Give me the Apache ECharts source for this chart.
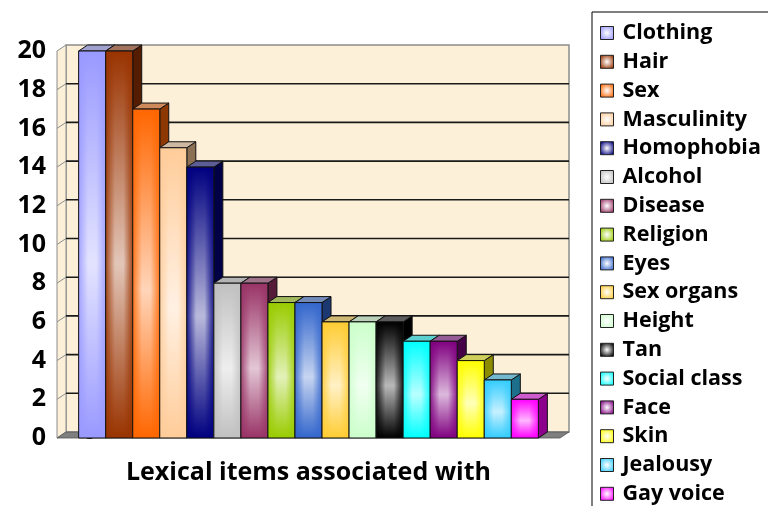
<!DOCTYPE html>
<html>
<head>
<meta charset="utf-8">
<script src="https://cdn.jsdelivr.net/npm/echarts@6/dist/echarts.min.js"></script>
<style>
html, body { margin: 0; padding: 0; background: #fff; }
#main { width: 768px; height: 506px; }
</style>
</head>
<body>
<div id="main"></div>
<script>
// data
var items = ['Clothing', 'Hair', 'Sex', 'Masculinity', 'Homophobia', 'Alcohol', 'Disease', 'Religion',
	'Eyes', 'Sex organs', 'Height', 'Tan', 'Social class', 'Face', 'Skin', 'Jealousy', 'Gay voice'];
var counts = [20, 20, 17, 15, 14, 8, 8, 7, 7, 6, 6, 6, 5, 5, 4, 3, 2];
var colors = ['#9999ff', '#993300', '#ff6600', '#ffcc99', '#000080', '#c0c0c0', '#993366', '#99cc00',
	'#3366cc', '#ffcc33', '#ccffcc', '#000000', '#00ffff', '#800080', '#ffff00', '#33ccff', '#ff00ff'];
var yMin = 0, yMax = 20, yStep = 2;
var xTitle = 'Lexical items associated with';

// 3d look
var DX = 9, DY = -6;
var X_MIN = -1.3, X_MAX = 17.3;
var FONT = 'Open Sans';

function hexRgb(hex) {
	return [parseInt(hex.slice(1, 3), 16), parseInt(hex.slice(3, 5), 16), parseInt(hex.slice(5, 7), 16)];
}
function mix(hex, other, t, alpha) {
	var a = hexRgb(hex), b = hexRgb(other);
	var r = [];
	for (var k = 0; k < 3; k++) r.push(Math.round(a[k] * (1 - t) + b[k] * t));
	return 'rgba(' + r.join(',') + ',' + (alpha == null ? 1 : alpha) + ')';
}

var myChart = echarts.init(document.getElementById('main'));

function wallItem(params, api) {
	var fl = api.coord([X_MIN, yMin]);
	var fr = api.coord([X_MAX, yMin]);
	var tl = api.coord([X_MIN, yMax]);
	var tr = api.coord([X_MAX, yMax]);
	var wall = '#fcf0d9';
	var kids = [];
	// back wall
	kids.push({
		type: 'rect',
		shape: { x: tl[0] + DX, y: tl[1] + DY, width: tr[0] - tl[0], height: fl[1] - tl[1] },
		style: { fill: wall, stroke: '#8c8c8c', lineWidth: 1.5 }
	});
	// side wall
	kids.push({
		type: 'polygon',
		shape: { points: [fl, tl, [tl[0] + DX, tl[1] + DY], [fl[0] + DX, fl[1] + DY]] },
		style: { fill: wall, stroke: '#8c8c8c', lineWidth: 1 }
	});
	for (var v = yMin + yStep; v < yMax; v += yStep) {
		var p = api.coord([X_MIN, v]);
		var q = api.coord([X_MAX, v]);
		kids.push({
			type: 'line',
			shape: { x1: p[0] + DX, y1: p[1] + DY, x2: q[0] + DX, y2: q[1] + DY },
			style: { stroke: '#1a1a1a', lineWidth: 1.6 }
		});
		kids.push({
			type: 'line',
			shape: { x1: p[0], y1: p[1], x2: p[0] + DX, y2: p[1] + DY },
			style: { stroke: '#8c8c8c', lineWidth: 1 }
		});
	}
	// floor
	kids.push({
		type: 'polygon',
		shape: { points: [fl, fr, [fr[0] + DX, fr[1] + DY], [fl[0] + DX, fl[1] + DY]] },
		style: { fill: '#7f7f7f', stroke: '#555', lineWidth: 0.8 }
	});
	return { type: 'group', children: kids };
}

function barItem(idx) {
	var c = colors[idx];
	return function(params, api) {
		var i = api.value(0), v = api.value(1);
		var a = api.coord([i - 0.5, v]);
		var b = api.coord([i + 0.5, 0]);
		var w = b[0] - a[0], h = b[1] - a[1];
		return {
			type: 'group',
			children: [{
				type: 'polygon',
				shape: { points: [[b[0], a[1]], [b[0] + DX, a[1] + DY], [b[0] + DX, b[1] + DY], [b[0], b[1]]] },
				style: { fill: mix(c, '#000000', 0.45), stroke: '#111', lineWidth: 1 }
			}, {
				type: 'polygon',
				shape: { points: [[a[0], a[1]], [a[0] + DX, a[1] + DY], [b[0] + DX, a[1] + DY], [b[0], a[1]]] },
				style: { fill: mix(c, '#a8a8a8', 0.55), stroke: '#111', lineWidth: 1 }
			}, {
				type: 'rect',
				shape: { x: a[0], y: a[1], width: w, height: h },
				style: {
					fill: new echarts.graphic.LinearGradient(0, 0, 0, 1, [
						{ offset: 0, color: c },
						{ offset: 0.55, color: mix(c, '#ffffff', 0.85) },
						{ offset: 1, color: c }
					])
				}
			}, {
				type: 'rect',
				shape: { x: a[0], y: a[1], width: w, height: h },
				style: {
					fill: new echarts.graphic.LinearGradient(0, 0, 1, 0, [
						{ offset: 0, color: mix(c, c, 0, 0.9) },
						{ offset: 0.35, color: mix(c, c, 0, 0.15) },
						{ offset: 0.65, color: mix(c, c, 0, 0.15) },
						{ offset: 1, color: mix(c, c, 0, 0.9) }
					]),
					stroke: '#111',
					lineWidth: 1
				}
			}]
		};
	};
}

var series = [{
	name: 'walls',
	type: 'custom',
	silent: true,
	z: 1,
	renderItem: wallItem,
	data: [[0, 0]]
}];
var legendData = [];
for (var i = 0; i < items.length; i++) {
	series.push({
		name: items[i],
		type: 'custom',
		z: 2,
		renderItem: barItem(i),
		itemStyle: { color: colors[i] },
		data: [[i, counts[i]]]
	});
	legendData.push({
		name: items[i],
		icon: 'rect',
		itemStyle: {
			color: new echarts.graphic.RadialGradient(0.5, 0.5, 0.6, [
				{ offset: 0, color: '#ffffff' },
				{ offset: 1, color: colors[i] }
			]),
			borderColor: '#222',
			borderWidth: 1
		}
	});
}

var option = {
	animation: false,
	backgroundColor: '#ffffff',
	grid: { left: 57, right: 208, top: 51, bottom: 68 },
	legend: {
		orient: 'vertical',
		left: 592,
		top: 12,
		height: 560,
		padding: [10, 40, 12, 8],
		itemWidth: 13,
		itemHeight: 13,
		itemGap: 6.8,
		borderColor: '#000',
		borderWidth: 1,
		selectedMode: false,
		textStyle: {
			fontFamily: FONT,
			fontWeight: 'bold',
			fontSize: 21.5,
			lineHeight: 21,
			color: '#000',
			padding: [0, 0, 0, 4]
		},
		data: legendData
	},
	xAxis: {
		type: 'value',
		min: X_MIN,
		max: X_MAX,
		axisLine: { show: false },
		axisTick: { show: false },
		axisLabel: { show: false },
		splitLine: { show: false },
		name: xTitle,
		nameLocation: 'middle',
		nameGap: 22,
		nameTextStyle: { fontFamily: FONT, fontWeight: 'bold', fontSize: 25, color: '#000' }
	},
	yAxis: {
		type: 'value',
		min: yMin,
		max: yMax,
		interval: yStep,
		axisLine: { show: true, lineStyle: { color: '#7f7f7f', width: 1 } },
		axisTick: { show: true, length: 5, lineStyle: { color: '#000' } },
		axisLabel: { fontFamily: FONT, fontWeight: 'bold', fontSize: 25, color: '#000', margin: 11 },
		splitLine: { show: false }
	},
	series: series
};

myChart.setOption(option);
</script>
</body>
</html>
